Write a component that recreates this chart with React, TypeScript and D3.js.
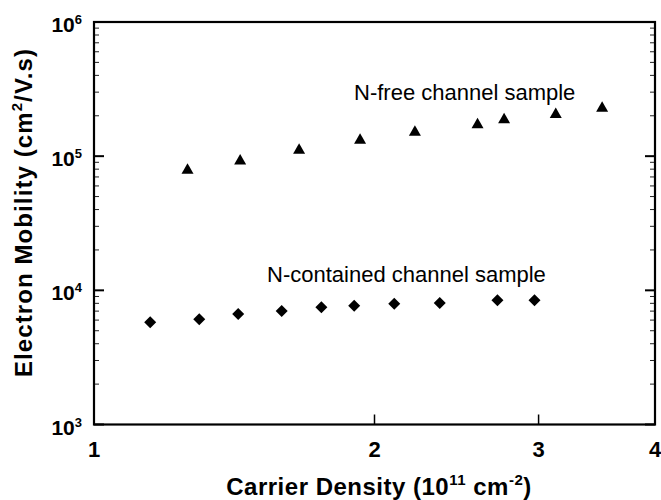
import React from "react";
import * as d3 from "d3";

const freeDensity = [1.26, 1.435, 1.66, 1.93, 2.21, 2.58, 2.755, 3.13, 3.51];
const freeMobility = [80500, 94500, 113500, 135000, 155000, 176000, 192000, 210000, 234000];
const containedDensity = [1.149, 1.297, 1.428, 1.59, 1.754, 1.902, 2.1, 2.35, 2.71, 2.97];
const containedMobility = [5780, 6080, 6660, 7010, 7470, 7690, 7960, 8040, 8420, 8420];
const xTickValues = [2, 3];
const xTickLabels = ["1", "2", "3", "4"];
const xLabelValues = [1, 2, 3, 4];
const yDecades = [1e3, 1e4, 1e5, 1e6];
const yExponents = ["3", "4", "5", "6"];

const W = 661;
const H = 500;
const FONT = "Arial, 'Liberation Sans', Helvetica, sans-serif";

export default function App() {
  const x = d3.scaleLog().domain([1, 4]).range([94, 655]);
  const y = d3.scaleLog().domain([1e3, 1e6]).range([424.5, 22]);
  const allY = y.ticks();
  const minorY = allY.filter((v) => !yDecades.some((d) => Math.abs(d - v) / d < 1e-6));

  const tri = (cx: number, cy: number) => {
    const p = d3.path();
    p.moveTo(cx - 6, cy + 5);
    p.lineTo(cx + 6, cy + 5);
    p.lineTo(cx, cy - 5.5);
    p.closePath();
    return p.toString();
  };
  const dia = (cx: number, cy: number) => {
    const p = d3.path();
    p.moveTo(cx, cy - 6);
    p.lineTo(cx + 6, cy);
    p.lineTo(cx, cy + 6);
    p.lineTo(cx - 6, cy);
    p.closePath();
    return p.toString();
  };

  const [x0, x1] = x.range();
  const [y0, y1] = y.range();

  return (
    <svg
      width={W}
      height={H}
      style={{ position: "absolute", left: 0, top: 0, background: "#fff" }}
      fontFamily={FONT}
    >
      <rect x={0} y={0} width={W} height={H} fill="#fff" />
      {/* minor y ticks left and right */}
      {minorY.map((v, i) => (
        <g key={"my" + i} stroke="#222" strokeWidth={1}>
          <line x1={x0} x2={x0 + 5} y1={y(v)} y2={y(v)} />
          <line x1={x1} x2={x1 - 5} y1={y(v)} y2={y(v)} />
        </g>
      ))}
      {/* major y ticks */}
      {yDecades.map((v, i) => (
        <g key={"My" + i} stroke="#000" strokeWidth={2}>
          <line x1={x0} x2={x0 + 10} y1={y(v)} y2={y(v)} />
          <line x1={x1} x2={x1 - 10} y1={y(v)} y2={y(v)} />
        </g>
      ))}
      {/* x ticks */}
      {xTickValues.map((v, i) => (
        <line key={"xt" + i} x1={x(v)} x2={x(v)} y1={y0} y2={y0 - 10} stroke="#000" strokeWidth={1.5} />
      ))}
      {/* frame */}
      <rect x={x0} y={y1} width={x1 - x0} height={y0 - y1} fill="none" stroke="#000" strokeWidth={2.2} />

      {/* y tick labels */}
      {yDecades.map((v, i) => (
        <text key={"yl" + i} x={x0 - 12} y={y(v) + 10} textAnchor="end" fontWeight="bold" fontSize={21} fill="#000">
          10
          <tspan fontSize={13} dy={-8}>{yExponents[i]}</tspan>
        </text>
      ))}
      {/* x tick labels */}
      {xLabelValues.map((v, i) => (
        <text key={"xl" + i} x={x(v)} y={457} textAnchor="middle" fontWeight="bold" fontSize={22} fill="#000">
          {xTickLabels[i]}
        </text>
      ))}

      {/* axis titles */}
      <text x={379} y={495} textAnchor="middle" fontWeight="bold" fontSize={24} letterSpacing={0.5} fill="#000">
        Carrier Density (10
        <tspan fontSize={15} dy={-10}>11</tspan>
        <tspan dy={10}> cm</tspan>
        <tspan fontSize={15} dy={-10}>-2</tspan>
        <tspan dy={10}>)</tspan>
      </text>
      <text
        transform={`translate(32,212.5) rotate(-90)`}
        textAnchor="middle"
        fontWeight="bold"
        fontSize={24}
        letterSpacing={1.1}
        fill="#000"
      >
        Electron Mobility (cm
        <tspan fontSize={15} dy={-10}>2</tspan>
        <tspan dy={10}>/V.s)</tspan>
      </text>

      {/* annotations */}
      <text x={354} y={100} fontSize={22} fill="#000">N-free channel sample</text>
      <text x={267} y={282} fontSize={22} fill="#000">N-contained channel sample</text>

      {/* data */}
      {freeDensity.map((d, i) => (
        <path key={"f" + i} d={tri(x(d), y(freeMobility[i]))} fill="#000" />
      ))}
      {containedDensity.map((d, i) => (
        <path key={"c" + i} d={dia(x(d), y(containedMobility[i]))} fill="#000" />
      ))}
    </svg>
  );
}
